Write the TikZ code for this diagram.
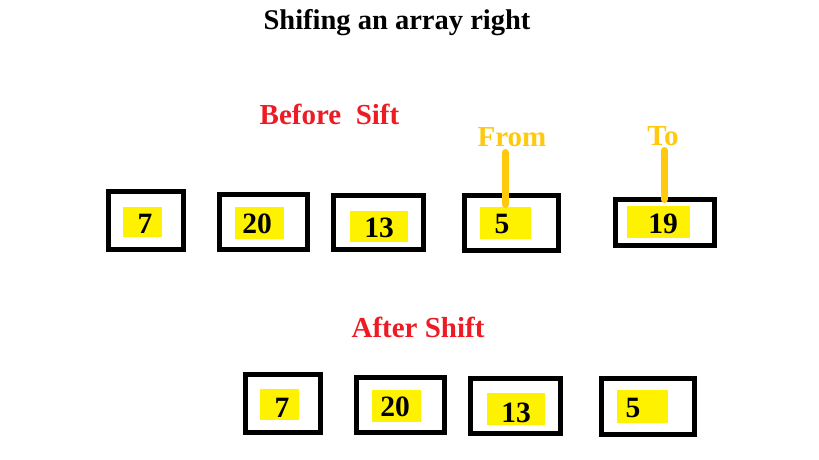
\documentclass[tikz,border=0pt]{standalone}
\usepackage{fontspec}
\setmainfont{Liberation Serif}
\definecolor{pred}{HTML}{ED1C24}
\definecolor{pgold}{HTML}{FFC90E}
\definecolor{pyel}{HTML}{FFF200}
\begin{document}
\begin{tikzpicture}[x=1pt,y=-1pt,
  cell/.style={draw=black, line width=5pt, inner sep=0pt, outer sep=0pt},
  hl/.style={fill=pyel, inner sep=0pt, outer sep=0pt},
  num/.style={font=\fontsize{29.5}{29.5}\selectfont\bfseries, anchor=base, inner sep=0pt},
  head/.style={font=\fontsize{28.5}{28.5}\selectfont\bfseries, anchor=base, inner sep=0pt},
  sub/.style={font=\fontsize{29}{29}\selectfont\bfseries, anchor=base, inner sep=0pt},
  pointer/.style={draw=pgold, line width=7pt, line cap=round}]
\useasboundingbox (0,0) rectangle (819,460);
% title and headings
\node[head] (title) at (397,30) {Shifing an array right};
\node[sub, text=pred] (before) at (329.5,124) {Before\ \ Sift};
\node[sub, text=pred] (after) at (418,337) {After Shift};
\node[sub, text=pgold] (from) at (512,146) {From};
\node[sub, text=pgold] (to) at (663,145) {To};
% before row boxes
\node[cell, minimum width=75pt, minimum height=58pt] (b1) at (146,220.5) {};
\node[cell, minimum width=88pt, minimum height=55pt] (b2) at (263.5,222) {};
\node[cell, minimum width=90pt, minimum height=54pt] (b3) at (378.5,222.5) {};
\node[cell, minimum width=94pt, minimum height=55pt] (b4) at (511.5,223) {};
\node[cell, minimum width=99pt, minimum height=46pt] (b5) at (665,222.5) {};
% before row highlights
\node[hl, minimum width=39pt, minimum height=30pt] (y1) at (142.5,222) {};
\node[hl, minimum width=49pt, minimum height=32pt] (y2) at (259.5,223) {};
\node[hl, minimum width=58pt, minimum height=31pt] (y3) at (379,226.5) {};
\node[hl, minimum width=51pt, minimum height=32pt] (y4) at (505.5,223) {};
\node[hl, minimum width=63pt, minimum height=32pt] (y5) at (658.5,222) {};
% before row numbers
\node[num] (n1) at (145,233) {7};
\node[num] (n2) at (257,233) {20};
\node[num] (n3) at (379,237) {13};
\node[num] (n4) at (502,233) {5};
\node[num] (n5) at (663,233) {19};
% after row boxes
\node[cell, minimum width=75pt, minimum height=58pt] (a1) at (283,403.5) {};
\node[cell, minimum width=88pt, minimum height=55pt] (a2) at (400.5,405) {};
\node[cell, minimum width=90pt, minimum height=55pt] (a3) at (515.5,406) {};
\node[cell, minimum width=93pt, minimum height=56pt] (a4) at (648,406.5) {};
% after row highlights
\node[hl, minimum width=39pt, minimum height=31pt] (z1) at (279.5,404.5) {};
\node[hl, minimum width=49pt, minimum height=32pt] (z2) at (396.5,406) {};
\node[hl, minimum width=58pt, minimum height=32pt] (z3) at (516,409) {};
\node[hl, minimum width=51pt, minimum height=33pt] (z4) at (642.5,406.5) {};
% after row numbers
\node[num] (m1) at (282,417) {7};
\node[num] (m2) at (395,416) {20};
\node[num] (m3) at (516,422) {13};
\node[num] (m4) at (633,417) {5};
% pointers
\coordinate (fromtop) at (505,152.5);
\coordinate (fromend) at (505,204.5);
\coordinate (totop) at (664,150.5);
\coordinate (toend) at (664,199.5);
\draw[pointer] (fromtop) -- (fromend);
\draw[pointer] (totop) -- (toend);
\end{tikzpicture}
\end{document}
